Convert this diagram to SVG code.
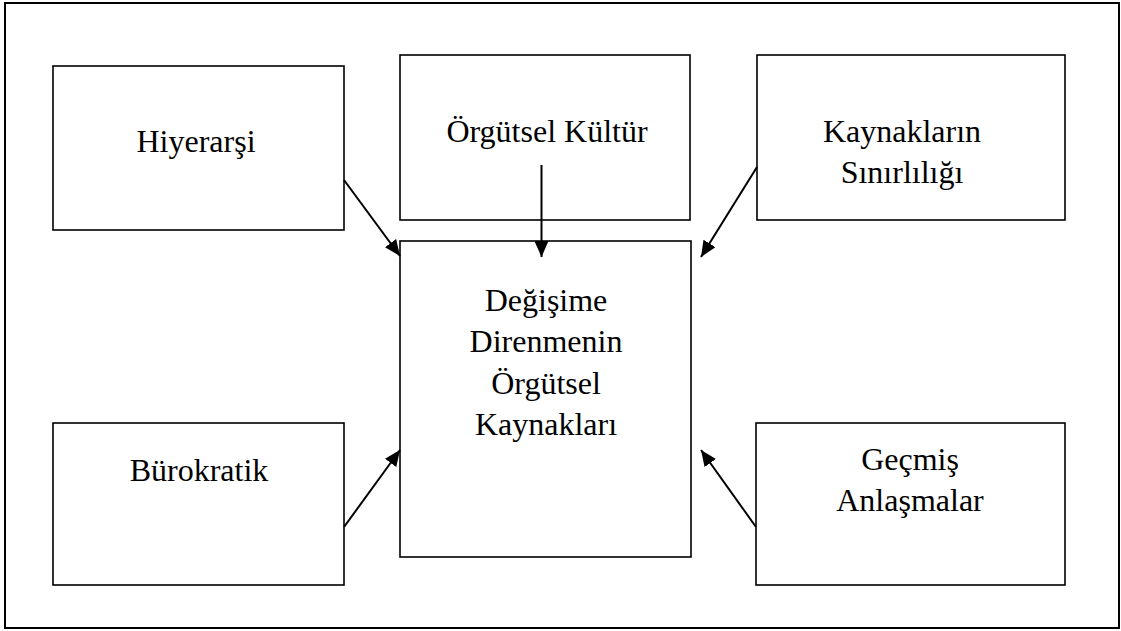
<svg xmlns="http://www.w3.org/2000/svg" width="1121" height="631" viewBox="0 0 1121 631">
<style>
.box{fill:#fff;stroke:#000;stroke-width:1.6}
.frame{fill:#fff;stroke:#000;stroke-width:2}
.t{font-family:"Liberation Serif","Times New Roman",serif;font-size:32px;fill:#000;text-anchor:middle}
.c{stroke:#000;stroke-width:2;fill:none;marker-end:url(#ah)}
</style>
<defs>
<marker id="ah" viewBox="0 0 16 14" refX="16" refY="7" markerWidth="16" markerHeight="14" markerUnits="userSpaceOnUse" orient="auto">
<path d="M0,0 L16,7 L0,14 z" fill="#000"/>
</marker>
</defs>
<rect class="frame" x="5" y="3" width="1114" height="625"/>
<g id="hiyerarsi"><rect class="box" x="53" y="66" width="291" height="164"/><text class="t" x="196" y="152">Hiyerarşi</text></g>
<g id="orgutsel-kultur"><rect class="box" x="400" y="55" width="290" height="165"/><text class="t" x="547" y="142">Örgütsel Kültür</text></g>
<g id="kaynaklarin-sinirliligi"><rect class="box" x="757" y="55" width="308" height="165"/><text class="t" x="902" y="142">Kaynakların</text><text class="t" x="902" y="183">Sınırlılığı</text></g>
<g id="merkez"><rect class="box" x="400" y="241" width="291" height="316"/><text class="t" x="546" y="311">Değişime</text><text class="t" x="546" y="352">Direnmenin</text><text class="t" x="546" y="394">Örgütsel</text><text class="t" x="546" y="435">Kaynakları</text></g>
<g id="burokratik"><rect class="box" x="53" y="423" width="291" height="162"/><text class="t" x="199" y="481">Bürokratik</text></g>
<g id="gecmis-anlasmalar"><rect class="box" x="756" y="423" width="309" height="162"/><text class="t" x="910" y="470">Geçmiş</text><text class="t" x="910" y="511">Anlaşmalar</text></g>
<g id="connectors">
<line class="c" x1="344" y1="180" x2="400" y2="256"/>
<line class="c" x1="541.5" y1="165" x2="541.5" y2="257"/>
<line class="c" x1="757" y1="167" x2="701" y2="257"/>
<line class="c" x1="344" y1="527" x2="400" y2="450"/>
<line class="c" x1="756" y1="527" x2="701" y2="450"/>
</g>
</svg>
